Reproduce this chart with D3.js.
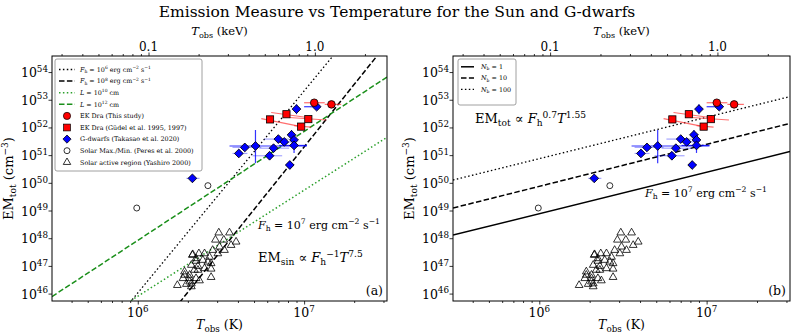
<!DOCTYPE html>
<html>
<head>
<meta charset="utf-8">
<script src="https://cdn.jsdelivr.net/npm/d3@7"></script>
<style>
body { margin: 0; background: #fff; }
svg { display: block; font-family: "DejaVu Serif", serif; }
</style>
</head>
<body>
<script>
// size of the page and plot frame
var w = 793;
var h = 336;
var yTop = 56, yBot = 301;
var kev = 1.16045e7;   // K per keV

/*** data ***/
var tDomain = [3.05e5, 3.15e7];
var emDomain = [5.4e45, 3.8e54];
var emTicks = [1e46, 1e47, 1e48, 1e49, 1e50, 1e51, 1e52, 1e53, 1e54];
var tTicks = [1e6, 1e7];
var tTickExp = ["6", "7"];
var tMinor = [4e5, 5e5, 6e5, 7e5, 8e5, 9e5, 2e6, 3e6, 4e6, 5e6, 6e6, 7e6, 8e6, 9e6, 2e7, 3e7];
var kevTicks = [0.1, 1.0];
var kevTickLabels = ["0.1", "1.0"];
var kevMinor = [0.03, 0.04, 0.05, 0.06, 0.07, 0.08, 0.09, 0.2, 0.3, 0.4, 0.5, 0.6, 0.7, 0.8, 0.9, 2];

// EK Dra (this study): T, EM, T error range
var ekT = [1.15e7, 1.46e7];
var ekEM = [7.8e52, 6.8e52];
var ekTerr = [[1.0e7, 1.33e7], [1.33e7, 1.67e7]];

// EK Dra (Gudel et al.): T, EM and the error segment ends
var gudT = [7.83e6, 6.24e6, 1.06e7, 9.6e6];
var gudEM = [3.0e52, 1.95e52, 2.0e52, 1.07e52];
var gudSeg = [
  [6.34e6, 3.47e52, 1.10e7, 2.19e52],
  [5.53e6, 2.09e52, 9.6e6, 1.07e52],
  [8.13e6, 2.29e52, 1.36e7, 1.86e52],
  [8.71e6, 1.17e52, 1.10e7, 1.02e52]
];

// G-dwarfs (Takasao et al. 2020)
var gdT = [9.0e6, 1.19e7, 8.4e6, 7.0e6, 7.6e6, 8.7e6, 8.7e6, 6.55e6, 5.1e6, 4.4e6, 4.05e6, 6.2e6, 8.2e6, 2.13e6];
var gdEM = [4.6e52, 5.6e52, 5.4e51, 3.8e51, 3.0e51, 3.55e51, 2.24e51, 1.78e51, 2.14e51, 1.9e51, 1.15e51, 9.5e50, 4.4e50, 1.45e50];
// [tLo, tHi, emLo, emHi, opacity]
var gdErr = [
  [null, null, 3.0e52, 6.9e52, 0.8],
  [1.0e7, 1.23e7, 4.6e52, 6.8e52, 0.8],
  [null, null, 3.55e51, 8.1e51, 0.8],
  [5.75e6, 8.13e6, null, null, 0.35],
  [7.28e6, 8.95e6, null, null, 0.35],
  [null, null, 2.6e51, 4.6e51, 0.8],
  [7.08e6, 1.04e7, 1.2e51, 3.55e51, 0.8],
  [5.38e6, 8.13e6, null, null, 0.35],
  [3.56e6, 1.04e7, 5.1e50, 8.1e51, 0.8],
  [3.71e6, 5.53e6, null, null, 0.35],
  [3.71e6, 4.56e6, null, null, 0.35],
  [4.89e6, 7.38e6, null, null, 0.35],
  [7.8e6, 8.7e6, null, null, 0.8],
  [1.96e6, 2.35e6, null, null, 0.35]
];

// Solar max/min (Peres et al. 2000)
var solT = [9.86e5, 2.64e6];
var solEM = [1.23e49, 7.9e49];

// Solar active regions (Yashiro 2000)
var arT = [1.73e6, 2.13e6, 2.24e6, 1.91e6, 2.05e6, 2.10e6, 2.30e6, 3.07e6, 3.56e6, 2.93e6,
           3.29e6, 3.90e6, 3.64e6, 3.10e6, 2.82e6, 3.32e6, 3.03e6, 2.14e6, 2.33e6, 2.52e6,
           2.70e6, 2.24e6, 2.46e6, 2.64e6, 2.76e6, 2.10e6, 2.30e6, 2.52e6, 2.76e6, 1.91e6,
           2.19e6, 2.05e6, 1.87e6, 2.24e6, 2.76e6, 2.05e6, 2.35e6, 1.96e6, 2.10e6];
var arEM = [2.0e46, 2.45e47, 1.5e47, 4.7e46, 3.55e46, 2.3e46, 7.1e46, 1.58e48, 1.58e48, 8.7e47,
            8.7e47, 7.4e47, 5.6e47, 4.9e47, 3.7e47, 3.7e47, 2.8e47, 2.6e47, 2.8e47, 2.8e47,
            2.1e47, 1.86e47, 1.62e47, 1.41e47, 1.23e47, 1.07e47, 9.8e46, 8.1e46, 7.8e46, 6.2e46,
            7.1e46, 4.7e46, 3.55e46, 3.55e46, 3.9e46, 2.7e46, 2.95e46, 2.2e46, 1.8e46];

// model lines, given by their two end points [T1, EM1, T2, EM2]
var linesA = [
  {pts: [8.95e5, 4.7e45, 1.49e7, 3.8e54], color: "#000", dash: "1.5,2.4", lw: 1.3},
  {pts: [1.78e6, 4.7e45, 2.74e7, 3.8e54], color: "#000", dash: "5.5,2.4", lw: 1.5},
  {pts: [8.7e5, 4.7e45, 3.15e7, 4.4e51], color: "#2ca02c", dash: "1.5,2.4", lw: 1.5},
  {pts: [3.05e5, 7.8e45, 3.15e7, 6.6e53], color: "#1a8f1a", dash: "5.5,2.4", lw: 1.5}
];
var linesB = [
  {pts: [3.05e5, 1.3e48, 3.15e7, 1.35e51], color: "#000", dash: null, lw: 1.5},
  {pts: [3.05e5, 1.23e49, 3.15e7, 1.4e52], color: "#000", dash: "5.5,2.4", lw: 1.5},
  {pts: [3.05e5, 1.26e50, 3.15e7, 1.3e53], color: "#000", dash: "1.5,2.4", lw: 1.3}
];

var svg = d3.select("body").append("svg").attr("width", w).attr("height", h);

// text with italic / sub / sup pieces
function rich(text, parts, fs) {
  var shift = 0;
  parts.forEach(function(p) {
    var target = p.sub ? 0.22 * fs : (p.sup ? -0.42 * fs : 0);
    text.append("tspan")
        .attr("dy", (target - shift).toFixed(2))
        .attr("font-size", (p.sub || p.sup) ? fs * 0.7 : fs)
        .attr("font-style", p.it ? "italic" : "normal")
        .text(p.t);
    shift = target;
  });
  return text;
}

function Tobs(unit) {
  return [{t: "T", it: true}, {t: "obs", sub: true}, {t: " (" + unit + ")"}];
}
function EMtot() {
  return [{t: "EM"}, {t: "tot", sub: true}, {t: " (cm"}, {t: "\u22123", sup: true}, {t: ")"}];
}
function Fh(exp) {
  return [{t: "F", it: true}, {t: "h", sub: true}, {t: " = 10"}, {t: exp, sup: true},
          {t: " erg cm"}, {t: "\u22122", sup: true}, {t: " s"}, {t: "\u22121", sup: true}];
}

// title
svg.append("text").attr("x", 397).attr("y", 17).attr("text-anchor", "middle")
   .attr("font-size", 15.5).text("Emission Measure vs Temperature for the Sun and G-dwarfs");

function diamond(sel, s) {
  return sel.append("rect").attr("x", -s / 2).attr("y", -s / 2).attr("width", s).attr("height", s)
            .attr("transform", "rotate(45)");
}

function drawPanel(p) {
  var x = d3.scaleLog().domain(tDomain).range([p.x0, p.x1]);
  var y = d3.scaleLog().domain(emDomain).range([yBot, yTop]);
  var xk = d3.scaleLog().domain(tDomain.map(function(t) { return t / kev; })).range([p.x0, p.x1]);
  var g = svg.append("g");

  g.append("clipPath").attr("id", "clip" + p.id)
   .append("rect").attr("x", p.x0).attr("y", yTop).attr("width", p.x1 - p.x0).attr("height", yBot - yTop);
  var plot = g.append("g").attr("clip-path", "url(#clip" + p.id + ")");

  /*** axes ***/
  function ticks(axis, vals, size, tr) {
    var a = g.append("g").attr("transform", tr)
             .call(axis.tickValues(vals).tickSize(size).tickSizeOuter(0).tickFormat(""));
    a.select(".domain").remove();
    a.selectAll("line").attr("stroke", "#000").attr("stroke-width", 0.8);
  }
  ticks(d3.axisBottom(x), tTicks, 3.5, "translate(0," + yBot + ")");
  ticks(d3.axisBottom(x), tMinor, 2, "translate(0," + yBot + ")");
  ticks(d3.axisTop(xk), kevTicks, 3.5, "translate(0," + yTop + ")");
  ticks(d3.axisTop(xk), kevMinor, 2, "translate(0," + yTop + ")");
  ticks(d3.axisLeft(y), emTicks, 3.5, "translate(" + p.x0 + ",0)");

  emTicks.forEach(function(v, i) {
    rich(g.append("text").attr("x", p.x0 - 4).attr("y", y(v) + 5).attr("text-anchor", "end"),
         [{t: "10"}, {t: String(46 + i), sup: true}], 12.5);
  });
  tTicks.forEach(function(v, i) {
    rich(g.append("text").attr("x", x(v)).attr("y", yBot + 16).attr("text-anchor", "middle"),
         [{t: "10"}, {t: tTickExp[i], sup: true}], 12.5);
  });
  kevTicks.forEach(function(v, i) {
    g.append("text").attr("x", xk(v)).attr("y", yTop - 5).attr("text-anchor", "middle")
     .attr("font-size", 12).text(kevTickLabels[i]);
  });

  var xc = (p.x0 + p.x1) / 2;
  rich(g.append("text").attr("x", xc).attr("y", 329).attr("text-anchor", "middle"), Tobs("K"), 12.5);
  rich(g.append("text").attr("x", xc).attr("y", 35).attr("text-anchor", "middle"), Tobs("keV"), 11.5);
  rich(g.append("text").attr("text-anchor", "middle")
        .attr("transform", "translate(" + (p.x0 - 39) + "," + ((yTop + yBot) / 2) + ")rotate(-90)"),
       EMtot(), 13);

  /*** model lines ***/
  p.lines.forEach(function(l) {
    plot.append("line")
        .attr("x1", x(l.pts[0])).attr("y1", y(l.pts[1]))
        .attr("x2", x(l.pts[2])).attr("y2", y(l.pts[3]))
        .attr("stroke", l.color).attr("stroke-width", l.lw)
        .attr("stroke-dasharray", l.dash);
  });

  /*** error bars ***/
  gudSeg.forEach(function(s) {
    plot.append("line").attr("x1", x(s[0])).attr("y1", y(s[1])).attr("x2", x(s[2])).attr("y2", y(s[3]))
        .attr("stroke", "#ff3030").attr("stroke-opacity", 0.7).attr("stroke-width", 1.2);
  });
  ekTerr.forEach(function(e, i) {
    plot.append("line").attr("x1", x(e[0])).attr("x2", x(e[1])).attr("y1", y(ekEM[i])).attr("y2", y(ekEM[i]))
        .attr("stroke", "#ff3030").attr("stroke-opacity", 0.7).attr("stroke-width", 1.2);
  });
  gdErr.forEach(function(e, i) {
    if (e[0]) {
      plot.append("line").attr("x1", x(e[0])).attr("x2", x(e[1])).attr("y1", y(gdEM[i])).attr("y2", y(gdEM[i]))
          .attr("stroke", "#0000ff").attr("stroke-opacity", e[4]).attr("stroke-width", 1.2);
    }
    if (e[2]) {
      plot.append("line").attr("x1", x(gdT[i])).attr("x2", x(gdT[i])).attr("y1", y(e[2])).attr("y2", y(e[3]))
          .attr("stroke", "#0000ff").attr("stroke-opacity", e[4]).attr("stroke-width", 1.2);
    }
  });

  /*** markers ***/
  arT.forEach(function(t, i) {
    plot.append("path").attr("d", d3.symbol(d3.symbolTriangle, 26)())
        .attr("transform", "translate(" + x(t) + "," + y(arEM[i]) + ")")
        .attr("fill", "#fff").attr("fill-opacity", 0).attr("stroke", "#000").attr("stroke-width", 0.8);
  });
  solT.forEach(function(t, i) {
    plot.append("circle").attr("cx", x(t)).attr("cy", y(solEM[i])).attr("r", 3)
        .attr("fill", "none").attr("stroke", "#000").attr("stroke-width", 0.8);
  });
  gdT.forEach(function(t, i) {
    var d = plot.append("g").attr("transform", "translate(" + x(t) + "," + y(gdEM[i]) + ")");
    diamond(d, 6.2).attr("fill", "#0000ff").attr("stroke", "#000").attr("stroke-width", 0.8);
  });
  gudT.forEach(function(t, i) {
    plot.append("rect").attr("x", x(t) - 3.6).attr("y", y(gudEM[i]) - 3.6).attr("width", 7.2).attr("height", 7.2)
        .attr("fill", "#ff0000").attr("stroke", "#000").attr("stroke-width", 0.8);
  });
  ekT.forEach(function(t, i) {
    plot.append("circle").attr("cx", x(t)).attr("cy", y(ekEM[i])).attr("r", 3.8)
        .attr("fill", "#ff0000").attr("stroke", "#000").attr("stroke-width", 0.8);
  });

  // frame
  g.append("rect").attr("x", p.x0).attr("y", yTop).attr("width", p.x1 - p.x0).attr("height", yBot - yTop)
   .attr("fill", "none").attr("stroke", "#000").attr("stroke-width", 1);

  p.extra(g);
}

function legendBox(g, x0, y0, x1, y1) {
  g.append("rect").attr("x", x0).attr("y", y0).attr("width", x1 - x0).attr("height", y1 - y0)
   .attr("rx", 2).attr("fill", "#fff").attr("fill-opacity", 0.85)
   .attr("stroke", "#888").attr("stroke-width", 0.8);
}

var legA = [
  {kind: "line", l: linesA[0], parts: Fh("6")},
  {kind: "line", l: linesA[1], parts: Fh("8")},
  {kind: "line", l: linesA[2], parts: [{t: "L", it: true}, {t: " = 10"}, {t: "10", sup: true}, {t: " cm"}]},
  {kind: "line", l: linesA[3], parts: [{t: "L", it: true}, {t: " = 10"}, {t: "12", sup: true}, {t: " cm"}]},
  {kind: "circle", parts: [{t: "EK Dra (This study)"}]},
  {kind: "square", parts: [{t: "EK Dra (G\u00fcdel et al. 1995, 1997)"}]},
  {kind: "diamond", parts: [{t: "G-dwarfs (Takasao et al. 2020)"}]},
  {kind: "open", parts: [{t: "Solar Max./Min. (Peres et al. 2000)"}]},
  {kind: "tri", parts: [{t: "Solar active region (Yashiro 2000)"}]}
];
var legB = [
  {kind: "line", l: linesB[0], parts: [{t: "N", it: true}, {t: "b", sub: true}, {t: " = 1"}]},
  {kind: "line", l: linesB[1], parts: [{t: "N", it: true}, {t: "b", sub: true}, {t: " = 10"}]},
  {kind: "line", l: linesB[2], parts: [{t: "N", it: true}, {t: "b", sub: true}, {t: " = 100"}]}
];

function legendRows(g, items, hx0, hx1, tx, y0, dy, fs) {
  items.forEach(function(it, i) {
    var yy = y0 + i * dy, cx = (hx0 + hx1) / 2;
    if (it.kind === "line") {
      g.append("line").attr("x1", hx0).attr("x2", hx1).attr("y1", yy).attr("y2", yy)
       .attr("stroke", it.l.color).attr("stroke-width", it.l.lw).attr("stroke-dasharray", it.l.dash);
    } else if (it.kind === "circle") {
      g.append("circle").attr("cx", cx).attr("cy", yy).attr("r", 3.6).attr("fill", "#f00").attr("stroke", "#000").attr("stroke-width", 0.7);
    } else if (it.kind === "square") {
      g.append("rect").attr("x", cx - 3.4).attr("y", yy - 3.4).attr("width", 6.8).attr("height", 6.8).attr("fill", "#f00").attr("stroke", "#000").attr("stroke-width", 0.7);
    } else if (it.kind === "diamond") {
      diamond(g.append("g").attr("transform", "translate(" + cx + "," + yy + ")"), 5.8)
        .attr("fill", "#00f").attr("stroke", "#000").attr("stroke-width", 0.7);
    } else if (it.kind === "open") {
      g.append("circle").attr("cx", cx).attr("cy", yy).attr("r", 3).attr("fill", "none").attr("stroke", "#000").attr("stroke-width", 0.8);
    } else {
      g.append("path").attr("d", d3.symbol(d3.symbolTriangle, 24)()).attr("transform", "translate(" + cx + "," + yy + ")")
       .attr("fill", "none").attr("stroke", "#000").attr("stroke-width", 0.8);
    }
    rich(g.append("text").attr("x", tx).attr("y", yy + 2.2), it.parts, fs);
  });
}

var panels = [
  {id: "a", x0: 52, x1: 387, lines: linesA, extra: function(g) {
    legendBox(g, 55, 59, 202, 171);
    legendRows(g, legA, 59, 75, 80, 69.5, 11.6, 6.4);
    rich(g.append("text").attr("x", 258).attr("y", 229), Fh("7"), 11);
    rich(g.append("text").attr("x", 258).attr("y", 262),
         [{t: "EM"}, {t: "sin", sub: true}, {t: " \u221d "}, {t: "F", it: true}, {t: "h", sub: true},
          {t: "\u22121", sup: true}, {t: "T", it: true}, {t: "7.5", sup: true}], 13);
    g.append("text").attr("x", 383).attr("y", 295).attr("text-anchor", "end").attr("font-size", 12.5).text("(a)");
  }},
  {id: "b", x0: 453, x1: 790, lines: linesB, extra: function(g) {
    legendBox(g, 458, 59, 516, 105);
    legendRows(g, legB, 461, 474, 481, 66.8, 11.3, 6.4);
    rich(g.append("text").attr("x", 475).attr("y", 123),
         [{t: "EM"}, {t: "tot", sub: true}, {t: " \u221d "}, {t: "F", it: true}, {t: "h", sub: true},
          {t: "0.7", sup: true}, {t: "T", it: true}, {t: "1.55", sup: true}], 13);
    rich(g.append("text").attr("x", 645).attr("y", 197), Fh("7"), 11);
    g.append("text").attr("x", 786).attr("y", 295).attr("text-anchor", "end").attr("font-size", 12.5).text("(b)");
  }}
];

panels.forEach(drawPanel);
</script>
</body>
</html>
